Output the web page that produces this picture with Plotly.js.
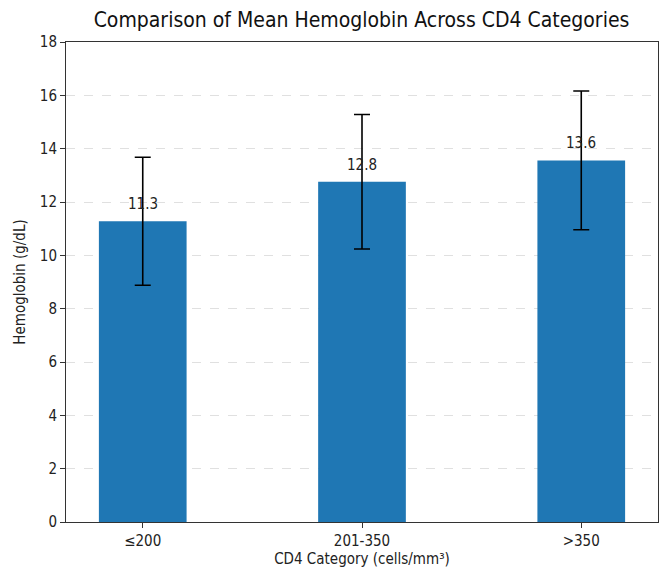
<!DOCTYPE html>
<html>
<head>
<meta charset="utf-8">
<script src="https://cdn.plot.ly/plotly-3.0.1.min.js"></script>
<style>html,body{margin:0;padding:0;background:#fff;}#chart{width:667px;height:570px;}</style>
</head>
<body>
<div id="chart"></div>
<script>
const categories = ["≤200", "201-350", ">350"];
const meanHb = [11.28, 12.76, 13.56];
const sdHb = [2.4, 2.52, 2.6];
const valueLabels = ["11.3", "12.8", "13.6"];

const FONT = "DejaVu Sans Condensed, DejaVu Sans, sans-serif";

const trace = {
  type: "bar",
  x: [0, 1, 2],
  y: meanHb,
  width: 0.4,
  marker: {color: "#1f77b4"},
  error_y: {type: "data", array: sdHb, visible: true, color: "#000", thickness: 1.6, width: 8},
  hoverinfo: "none"
};

const annotations = meanHb.map((v, i) => ({
  x: i, y: v, text: valueLabels[i], showarrow: false,
  yanchor: "bottom", yshift: 6, font: {family: FONT, size: 15, color: "#222"}
}));

const layout = {
  width: 667, height: 570,
  margin: {l: 66, r: 9, t: 42, b: 48},
  paper_bgcolor: "#fff", plot_bgcolor: "#fff",
  font: {family: FONT, size: 14, color: "#222"},
  title: {text: "Comparison of Mean Hemoglobin Across CD4 Categories", x: 0.542, xanchor: "center", y: 0.965, yanchor: "middle", font: {family: FONT, size: 21, color: "#111"}},
  xaxis: {
    range: [-0.35, 2.35], tickmode: "array", tickvals: [0, 1, 2], ticktext: categories,
    showline: true, linecolor: "#333", linewidth: 1, mirror: true,
    ticks: "outside", ticklen: 5, tickcolor: "#333", showgrid: false, zeroline: false,
    tickfont: {family: FONT, size: 15},
    title: {text: "CD4 Category (cells/mm³)", font: {family: FONT, size: 15}, standoff: 4}
  },
  yaxis: {
    range: [0, 18], dtick: 2, tick0: 0,
    showline: true, linecolor: "#333", linewidth: 1, mirror: true,
    ticks: "outside", ticklen: 5, tickcolor: "#333",
    showgrid: true, gridcolor: "#e0e0e0", griddash: "dash", gridwidth: 1, zeroline: false,
    tickfont: {family: FONT, size: 15},
    title: {text: "Hemoglobin (g/dL)", font: {family: FONT, size: 15}, standoff: 10}
  },
  annotations: annotations,
  showlegend: false
};

Plotly.newPlot("chart", [trace], layout, {displayModeBar: false, staticPlot: true});
</script>
</body>
</html>
